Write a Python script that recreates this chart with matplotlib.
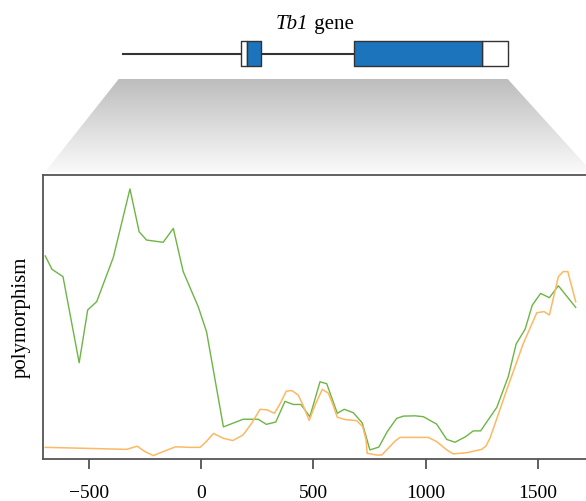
import numpy as np
import matplotlib
matplotlib.use("Agg")
import matplotlib.pyplot as plt
from matplotlib.colors import LinearSegmentedColormap
from matplotlib.patches import Polygon

plt.rcParams['font.family'] = ['Liberation Serif', 'DejaVu Serif']

# polymorphism along the Tb1 region (position in bp, arbitrary units)
green_pos = [-693, -663, -614, -542, -504, -464, -390, -316, -275, -242, -168, -123,
             -79, -12, 25, 100, 188, 255, 291, 333, 374, 411, 445, 485, 530, 560,
             607, 638, 678, 718, 752, 792, 829, 871, 901, 953, 990, 1049, 1094,
             1131, 1179, 1212, 1245, 1317, 1368, 1403, 1443, 1475, 1512, 1551,
             1591, 1668]
green_val = [0.715, 0.668, 0.642, 0.339, 0.525, 0.554, 0.710, 0.951, 0.800, 0.771,
             0.763, 0.812, 0.660, 0.536, 0.448, 0.113, 0.140, 0.140, 0.122, 0.130,
             0.203, 0.192, 0.192, 0.149, 0.272, 0.265, 0.161, 0.175, 0.163, 0.127,
             0.032, 0.042, 0.096, 0.143, 0.151, 0.152, 0.149, 0.123, 0.069, 0.059,
             0.079, 0.099, 0.099, 0.182, 0.290, 0.405, 0.457, 0.542, 0.583, 0.568,
             0.610, 0.534]

orange_pos = [-693, -331, -284, -249, -212, -168, -113, -49, -4, 22, 56, 99, 142,
              188, 227, 263, 294, 327, 352, 380, 405, 433, 454, 482, 508, 540, 567,
              588, 607, 641, 693, 720, 735, 740, 782, 805, 834, 864, 886, 1012,
              1050, 1094, 1123, 1183, 1250, 1269, 1287, 1361, 1435, 1495, 1527,
              1551, 1591, 1613, 1633, 1668]
orange_val = [0.041, 0.034, 0.045, 0.026, 0.012, 0.026, 0.043, 0.041, 0.041, 0.060,
              0.090, 0.073, 0.065, 0.085, 0.127, 0.175, 0.173, 0.161, 0.194, 0.239,
              0.241, 0.225, 0.190, 0.136, 0.190, 0.245, 0.232, 0.190, 0.147, 0.139,
              0.135, 0.114, 0.067, 0.020, 0.014, 0.014, 0.038, 0.063, 0.076, 0.076,
              0.061, 0.032, 0.018, 0.022, 0.034, 0.046, 0.074, 0.243, 0.407, 0.515,
              0.519, 0.507, 0.642, 0.660, 0.660, 0.554]

x_ticks = [-500, 0, 500, 1000, 1500]

# gene model (schematic units)
gene_span = [0, 385]
utr_blocks = [(118.6, 6.0), (359.3, 25.7)]
cds_blocks = [(124.6, 13.7), (231.6, 127.7)]

fig = plt.figure(figsize=(5.86, 5.01), dpi=100)

# main plot
ax = fig.add_axes([43 / 586, 42 / 501, 1 - 43 / 586, 284 / 501])
ax.plot(green_pos, green_val, color='#6db544', lw=1.0)
ax.plot(orange_pos, orange_val, color='#fdb863', lw=1.1)
ax.set_xlim(-703, 1714)
ax.set_ylim(0, 1)
ax.set_xticks(x_ticks)
ax.set_yticks([])
ax.tick_params(axis='x', direction='out', length=7.5, width=1.2, color='#444444',
               labelsize=14, pad=11)
for side in ['left', 'bottom', 'top']:
    ax.spines[side].set_color('#555555')
    ax.spines[side].set_linewidth(1.3)
ax.spines['right'].set_visible(False)
ax.set_ylabel('polymorphism', fontsize=15, labelpad=9)

# gene diagram
gax = fig.add_axes([122.7 / 586, 435 / 501, 385 / 586, 25 / 501])
gax.set_xlim(gene_span)
gax.set_ylim(0, 1)
gax.axis('off')
gax.plot(gene_span, [0.5, 0.5], color='#333333', lw=1.5, zorder=1, clip_on=False)
gax.broken_barh(utr_blocks, (0, 1), facecolor='white', edgecolor='#333333',
                lw=1.0, zorder=2, clip_on=False)
gax.broken_barh(cds_blocks, (0, 1), facecolor='#1c75bc', edgecolor='#333333',
                lw=1.0, zorder=3, clip_on=False)

# zoom trapezoid with grey gradient
to_fig = fig.transFigure.inverted()
g_left = to_fig.transform(gax.transData.transform((gene_span[0], 0)))
g_right = to_fig.transform(gax.transData.transform((gene_span[1], 0)))
a_left = to_fig.transform(ax.transAxes.transform((0, 1)))
a_right = to_fig.transform(ax.transAxes.transform((1, 1)))
top_y = g_left[1] - 13 / 501
bot_y = a_left[1] + 3 / 501
corners = [(g_left[0] - 4 / 586, top_y), (g_right[0], top_y),
           (a_right[0] + 6 / 586, bot_y), (a_left[0] + 2 / 586, bot_y)]

bg = fig.add_axes([0, 0, 1, 1], zorder=-1)
bg.set_xlim(0, 1)
bg.set_ylim(0, 1)
bg.axis('off')
cmap = LinearSegmentedColormap.from_list('fade', ['#fafafa', '#bdbdbd'])
grad = np.linspace(0, 1, 256).reshape(-1, 1)
im = bg.imshow(grad, extent=[0, 1.05, bot_y, top_y], origin='lower', cmap=cmap,
               aspect='auto')
poly = Polygon(corners, closed=True, facecolor='none', edgecolor='none')
bg.add_patch(poly)
im.set_clip_path(poly)

# title: italic gene name followed by upright "gene"
t1 = bg.text(276 / 586, 1 - 29 / 501, 'Tb1', style='italic', fontsize=15,
             ha='left', va='baseline')
bg.annotate(' gene', xy=(1, 0), xycoords=t1, ha='left', va='bottom', fontsize=15)

fig.savefig('out.png', dpi=100)
